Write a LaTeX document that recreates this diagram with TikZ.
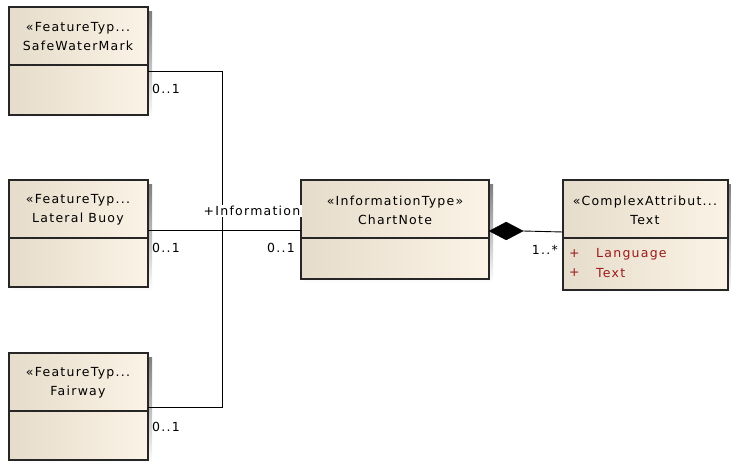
\documentclass[tikz,border=0pt]{standalone}
\usepackage{fontspec}
\setmainfont{DejaVu Sans}
\newfontfamily\umlfont[LetterSpace=10]{DejaVu Sans}
\usetikzlibrary{shapes.geometric}
\definecolor{boxleft}{HTML}{E6DCCB}
\definecolor{boxright}{HTML}{FBF3E6}
\definecolor{attr}{HTML}{9A1A1A}
\definecolor{shade}{HTML}{BDBDBD}
\tikzset{
  x=1pt, y=-1pt,
  umltext/.style={font=\umlfont\fontsize{12.5pt}{19pt}\selectfont, inner sep=0pt, align=center},
  mult/.style={font=\umlfont\fontsize{12.5pt}{19pt}\selectfont, inner sep=0pt},
  attrtext/.style={font=\umlfont\fontsize{12.5pt}{19pt}\selectfont, inner sep=0pt, text=attr, anchor=west},
  link/.style={draw=black, line width=0.9pt},
}
% class box: #1 name, #2 left, #3 top, #4 right, #5 bottom, #6 divider y
\newcommand{\classbox}[6]{%
  \fill[shade] (#2+4,#3+4) rectangle (#4+4,#5+4);
  \shade[left color=boxleft, right color=boxright] (#2,#3) rectangle (#4,#5);
  \draw[line width=1.2pt, draw=black!85] (#2,#3) rectangle (#4,#5);
  \draw[line width=1.2pt, draw=black!85] (#2,#6) -- (#4,#6);
  \coordinate (#1) at ({(#2+#4)/2},{(#3+#6)/2});
}
\begin{document}
\begin{tikzpicture}
\useasboundingbox (0,0) rectangle (731,464);
\fill[white] (0,0) rectangle (731,464);

% classes
\classbox{swm}{9}{7}{148}{115}{65}
\classbox{lb}{9}{180}{148}{287}{238}
\classbox{fw}{9}{353}{148}{460}{411}
\classbox{cn}{301}{180}{489}{279}{238}
\classbox{tx}{563}{180}{728}{290}{238}

\node[umltext] (swmT) at (78,37) {«FeatureTyp...\\SafeWaterMark};
\node[umltext] (lbT) at (78,210) {«FeatureTyp...\\Lateral Buoy};
\node[umltext] (fwT) at (78,383) {«FeatureTyp...\\Fairway};
\node[umltext] (cnT) at (395,210) {«InformationType»\\ChartNote};
\node[umltext] (txT) at (645,210) {«ComplexAttribut...\\Text};

\node[attrtext] (p1) at (569,254) {+};
\node[attrtext] (a1) at (596,254) {Language};
\node[attrtext] (p2) at (569,273) {+};
\node[attrtext] (a2) at (596,273) {Text};

% association tree
\coordinate (swmE) at (148,71);
\coordinate (lbE) at (148,230);
\coordinate (fwE) at (148,407);
\coordinate (cnE) at (301,230);
\coordinate (j1) at (222,71);
\coordinate (j2) at (222,407);
\draw[link] (swmE) -- (j1) -- (j2) -- (fwE);
\draw[link] (lbE) -- (cnE);

\node[mult, fill=white, inner sep=1.5pt] (role) at (252,211) {+Information};

% composition
\node[diamond, fill=black, draw=black, minimum width=34pt, minimum height=18pt, inner sep=0pt, anchor=west] (dia) at (489,231) {};
\coordinate (txE) at (563,232);
\draw[link] (dia.east) -- (txE);

% multiplicities
\node[mult, anchor=west] (m1) at (152,89) {0..1};
\node[mult, anchor=west] (m2) at (152,248) {0..1};
\node[mult, anchor=east] (m3) at (295,248) {0..1};
\node[mult, anchor=west] (m4) at (152,427) {0..1};
\node[mult, anchor=east] (m5) at (558,250) {1..*};
\end{tikzpicture}
\end{document}
